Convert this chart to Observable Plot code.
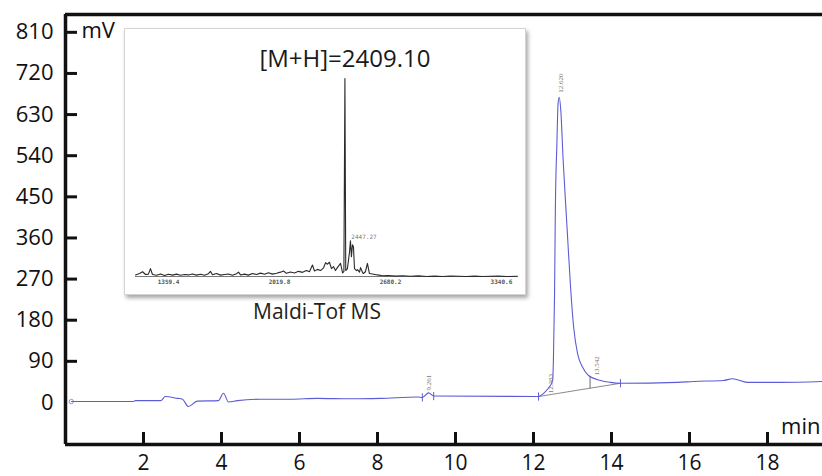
<!DOCTYPE html>
<html>
<head>
<meta charset="utf-8">
<script src="https://cdn.jsdelivr.net/npm/d3@7"></script>
<script src="https://cdn.jsdelivr.net/npm/@observablehq/plot@0.6"></script>
<style>
  html, body { margin: 0; padding: 0; background: #fff; }
  #wrap { position: relative; width: 822px; height: 476px; overflow: hidden; font-family: 'Open Sans', sans-serif; }
  #inset { position: absolute; left: 124px; top: 28px; width: 400px; height: 265px; background: #fff;
           border: 1px solid #d4d4d4; box-shadow: 2px 3px 4px rgba(0,0,0,0.35); }
  #inset svg { display: block; }
  #caption { position: absolute; left: 317px; top: 301px; transform: translateX(-50%); font-size: 21px; line-height: 1; color: #222; white-space: nowrap; }
</style>
</head>
<body>
<div id="wrap">
  <div id="main"></div>
  <div id="inset"></div>
  <div id="caption">Maldi-Tof MS</div>
</div>
<script>
// ---- Chromatogram (HPLC) ----
const chromTime = [0.15, 1.74, 1.79, 2.44, 2.56, 2.87, 3.00, 3.15, 3.38, 3.92, 4.05, 4.18, 4.41, 5.00, 5.77, 6.46, 7.31, 8.08, 9.03, 9.15, 9.31, 9.44, 12.13, 12.26, 12.38, 12.49, 12.51, 12.54, 12.56, 12.60, 12.63, 12.66, 12.70, 12.76, 12.86, 12.95, 13.03, 13.13, 13.26, 13.41, 13.72, 13.97, 14.23, 15.69, 16.10, 16.87, 17.10, 17.49, 18.33, 19.41];
const chromMV   = [2, 2, 4, 4, 13, 9, 7, -9, 3, 4, 20, 1, 4, 7, 7, 9, 8, 9, 12, 11, 21, 14, 13, 20, 31, 48, 92, 239, 420, 567, 654, 668, 639, 530, 383, 252, 164, 107, 77, 59, 48, 44, 42, 44, 46, 48, 52, 44, 44, 46];

const yTickValues = [0, 90, 180, 270, 360, 450, 540, 630, 720, 810];
const yTickMarks  = [90, 180, 270, 360, 450, 540, 630, 720, 810];
const xTickValues = [2, 4, 6, 8, 10, 12, 14, 16, 18];
const yMin = -92, yMax = 849, xMin = 0, xMax = 19.41;

const markerTime = [9.15, 9.44, 12.13, 14.23];
const markerMV   = [11, 14, 13, 42];
const baseTime = [12.13, 14.23];
const baseMV   = [13, 42];
const dropTime = [13.45];
const dropFrom = [31];
const dropTo   = [58];
const startTime = [0.15];
const startMV   = [2];

const peakLabel     = ["9.261", "12.383", "12.620", "13.542"];
const peakLabelTime = [9.31, 12.44, 12.69, 13.62];
const peakLabelMV   = [26, 20, 678, 59];

// ---- MALDI-TOF inset ----
const msMass = [1163, 1187, 1205, 1223, 1240, 1252, 1264, 1288, 1312, 1336, 1359, 1383, 1407, 1431, 1455, 1478, 1502, 1526, 1550, 1574, 1597, 1609, 1621, 1645, 1669, 1693, 1716, 1740, 1764, 1776, 1788, 1812, 1835, 1859, 1883, 1907, 1931, 1954, 1978, 2002, 2026, 2044, 2061, 2085, 2109, 2133, 2157, 2180, 2198, 2216, 2228, 2246, 2264, 2282, 2294, 2305, 2317, 2329, 2341, 2353, 2365, 2383, 2395, 2403, 2409.1, 2414, 2424, 2436, 2442, 2448, 2454, 2460, 2466, 2478, 2484, 2496, 2502, 2514, 2519, 2531, 2543, 2555, 2573, 2603, 2633, 2668, 2710, 2752, 2799, 2847, 2894, 2942, 2990, 3037, 3085, 3132, 3180, 3228, 3275, 3323, 3370, 3436];
const msInt  = [0.8, 1.5, 2.4, 1.0, 1.2, 4.0, 1.0, 0.6, 1.3, 0.5, 1.1, 0.7, 1.2, 0.6, 1.0, 0.8, 1.3, 0.7, 1.1, 0.6, 1.4, 2.6, 0.9, 1.5, 0.7, 1.0, 1.3, 0.6, 1.4, 2.2, 0.8, 1.2, 0.7, 1.5, 1.0, 1.7, 1.1, 1.9, 1.2, 1.6, 2.2, 2.8, 1.6, 2.3, 1.8, 2.6, 2.1, 3.0, 2.4, 5.8, 2.8, 3.6, 3.0, 4.4, 7.0, 6.2, 7.2, 4.0, 5.0, 3.0, 4.6, 6.6, 1.8, 2.5, 100, 3.0, 4.0, 12, 18, 10, 16, 15, 4.0, 3.0, 3.5, 2.2, 4.5, 2.0, 1.5, 2.4, 6.6, 1.5, 1.3, 0.8, 0.4, 0.5, 0.2, 0.4, 0.1, 0.3, 0.0, 0.2, 0.0, 0.2, 0.1, 0.0, 0.2, 0.0, 0.1, 0.2, 0.0, 0.1];
const msTicks = [1359.4, 2019.8, 2680.2, 3340.6];
const msTitle = "[M+H]=2409.10";
const msTitleMass = 2409.1;
const msSecondLabel = "2447.27";
const msSecondMass = 2447.27;
const msSecondInt = 18;

// ---- build tables ----
const chrom = chromTime.map((t, i) => ({t, v: chromMV[i]}));
const markers = markerTime.map((t, i) => ({t, v: markerMV[i]}));
const base = baseTime.map((t, i) => ({t, v: baseMV[i]}));
const drop = dropTime.map((t, i) => ({t, v1: dropFrom[i], v2: dropTo[i]}));
const starts = startTime.map((t, i) => ({t, v: startMV[i]}));
const plabels = peakLabel.map((s, i) => ({s, t: peakLabelTime[i], v: peakLabelMV[i]}));
const spec = msMass.map((m, i) => ({m, I: msInt[i]}));

const blue = "#5c5cd6";
const ink = "#111";

const main = Plot.plot({
  width: 822, height: 476,
  marginLeft: 65, marginRight: 0, marginTop: 14, marginBottom: 32,
  x: {domain: [xMin, xMax]},
  y: {domain: [yMin, yMax]},
  style: {fontFamily: "'Open Sans', sans-serif", background: "white", color: ink},
  marks: [
    Plot.axisY(yTickValues, {tickSize: 0, tickPadding: 12, fontSize: 22, fill: ink, label: null}),
    Plot.axisX(xTickValues, {tickSize: 0, tickPadding: 11, fontSize: 21, fill: ink, label: null}),
    Plot.tickY(yTickMarks, {y: d => d, stroke: ink, strokeWidth: 3, insetRight: 745}),
    Plot.tickX(xTickValues, {x: d => d, stroke: ink, strokeWidth: 3, insetTop: 418}),
    Plot.line(base, {x: "t", y: "v", stroke: "#8a8a8a", strokeWidth: 1}),
    Plot.link(drop, {x1: "t", x2: "t", y1: "v1", y2: "v2", stroke: "#6a6a6a", strokeWidth: 1}),
    Plot.line(chrom, {x: "t", y: "v", stroke: blue, strokeWidth: 1.1, curve: "monotone-x"}),
    Plot.link(markers, {x1: "t", x2: "t", y1: d => d.v - 9, y2: d => d.v + 9, stroke: blue, strokeWidth: 1}),
    Plot.dot(starts, {x: "t", y: "v", r: 2.2, stroke: "#7a7ad0", fill: "none", strokeWidth: 0.8}),
    Plot.text(plabels, {x: "t", y: "v", text: "s", rotate: -90, textAnchor: "start", fontSize: 7,
                        fontFamily: "'Liberation Serif', serif", fill: "#777"}),
    Plot.ruleX([xMin], {stroke: ink, strokeWidth: 3.5}),
    Plot.ruleY([yMin], {stroke: ink, strokeWidth: 3.5}),
    Plot.ruleY([yMax], {stroke: ink, strokeWidth: 3.5}),
    Plot.text(["mV"], {frameAnchor: "top-left", dx: 16, dy: 8, textAnchor: "start", lineAnchor: "top", fontSize: 22, fill: ink}),
    Plot.text(["min"], {frameAnchor: "bottom-right", dx: -2, dy: -18, textAnchor: "end", lineAnchor: "middle", fontSize: 22, fill: ink})
  ]
});
document.getElementById("main").appendChild(main);

const inset = Plot.plot({
  width: 400, height: 265,
  marginLeft: 10, marginRight: 8, marginTop: 49, marginBottom: 18,
  x: {domain: [1163, 3436]},
  y: {domain: [0, 100], axis: null},
  style: {fontFamily: "'Open Sans', sans-serif", background: "white"},
  marks: [
    Plot.ruleY([0], {stroke: "#555", strokeWidth: 0.8}),
    Plot.line(spec, {x: "m", y: "I", stroke: "#2a2a2a", strokeWidth: 1.1}),
    Plot.axisX(msTicks, {tickSize: 0, tickPadding: 3, fontSize: 6, tickFormat: d => d.toFixed(1), label: null,
                         fontFamily: "'DejaVu Sans Mono', monospace", fontWeight: "bold", fill: "#555"}),
    Plot.text([msTitle], {x: () => msTitleMass, y: () => 100, dy: -19, lineAnchor: "middle", fontSize: 24, fill: "#1a1a1a"}),
    Plot.text([msSecondLabel], {x: () => msSecondMass, y: () => msSecondInt, dy: -4, textAnchor: "start", fontSize: 6,
                                fontFamily: "'DejaVu Sans Mono', monospace", fill: "#777"})
  ]
});
document.getElementById("inset").appendChild(inset);
</script>
</body>
</html>
